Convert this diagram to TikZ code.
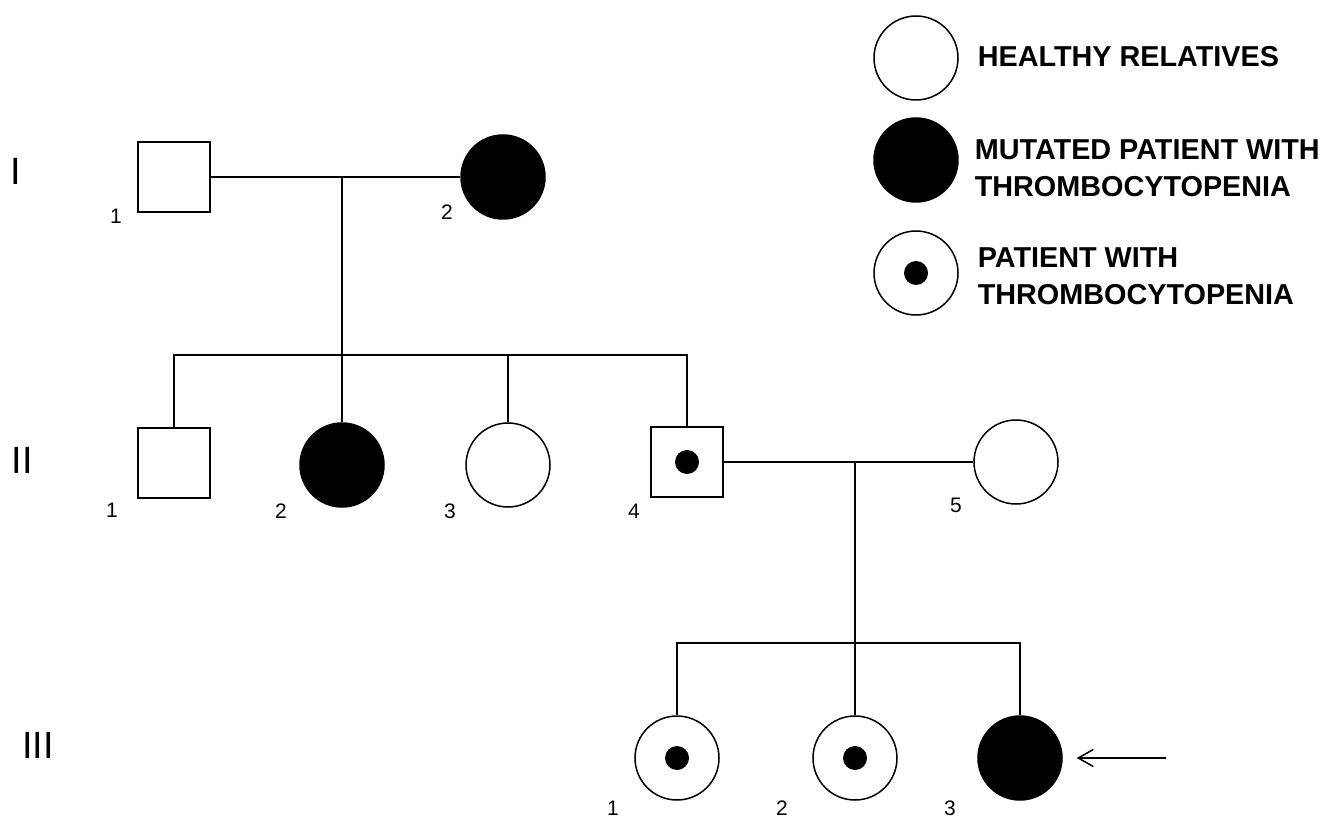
\documentclass[tikz,border=0pt]{standalone}
\usepackage{fontspec}
\setmainfont{Liberation Sans}
\usetikzlibrary{
    arrows.meta,
    positioning
}

\tikzset{
    male/.style={draw, rectangle, minimum width=36pt, minimum height=35pt, inner sep=0pt},
    female/.style={draw, circle, minimum size=42pt, inner sep=0pt},
    affected/.style={fill=black},
    carrier/.style={path picture={\fill (path picture bounding box.center) circle (6pt);}},
    num/.style={font=\fontsize{10.5pt}{12pt}\selectfont, inner sep=0pt},
    gen/.style={font=\fontsize{19pt}{22pt}\selectfont, inner sep=0pt},
    legend/.style={font=\fontsize{14.4pt}{18.5pt}\selectfont\bfseries, align=left, anchor=west, inner sep=0pt}
}

\begin{document}
\begin{tikzpicture}[x=0.5pt, y=-0.5pt, line width=0.75pt]
        \useasboundingbox (0,0) rectangle (1323,818);
        \node[gen] (g1) at (16,171) {I};
        \node[gen] (g2) at (22,460) {II};
        \node[gen] (g3) at (38,745) {III};
        \node[male] (I1) at (174,177) {};
        \node[female, affected] (I2) at (503,177) {};
        \node[num] (nI1) at (116,216) {1};
        \node[num] (nI2) at (447,212) {2};
        \node[male] (II1) at (174,463) {};
        \node[female, affected] (II2) at (342,465) {};
        \node[female] (II3) at (508,465) {};
        \node[male, carrier] (II4) at (687,462) {};
        \node[female] (II5) at (1016,462) {};
        \node[num] (nII1) at (112,510) {1};
        \node[num] (nII2) at (281,511) {2};
        \node[num] (nII3) at (450,511) {3};
        \node[num] (nII4) at (634,511) {4};
        \node[num] (nII5) at (956,505) {5};
        \node[female, carrier] (III1) at (677,758) {};
        \node[female, carrier] (III2) at (855,758) {};
        \node[female, affected] (III3) at (1020,758) {};
        \node[num] (nIII1) at (613,808) {1};
        \node[num] (nIII2) at (782,808) {2};
        \node[num] (nIII3) at (950,808) {3};
        \coordinate (m1) at (342,177);
        \coordinate (s1) at (342,355);
        \coordinate (m2) at (855,462);
        \coordinate (s2) at (855,643);
        \coordinate (tail) at (1166,758);
        \draw (I1) -- (I2);
        \draw (m1) -- (s1);
        \draw (II1.north) |- (s1) -| (II4.north);
        \draw (s1) -- (II2.north);
        \draw (II3.north) -- (II3.north |- s1);
        \draw (II4) -- (II5);
        \draw (m2) -- (s2);
        \draw (III1.north) |- (s2) -| (III3.north);
        \draw (s2) -- (III2.north);
        \draw[-{Straight Barb[length=7.5pt, width=8.5pt]}, shorten >=7pt] (tail) -- (III3);
        \node[female] (L1) at (916,58) {};
        \node[female, affected] (L2) at (916,160) {};
        \node[female, carrier] (L3) at (916,273) {};
        \node[legend] (t1) at (977,57) {HEALTHY RELATIVES};
        \node[legend] (t2) at (974,168) {MUTATED PATIENT WITH\\THROMBOCYTOPENIA};
        \node[legend] (t3) at (977,276) {PATIENT  WITH\\THROMBOCYTOPENIA};
    \end{tikzpicture}
\end{document}
